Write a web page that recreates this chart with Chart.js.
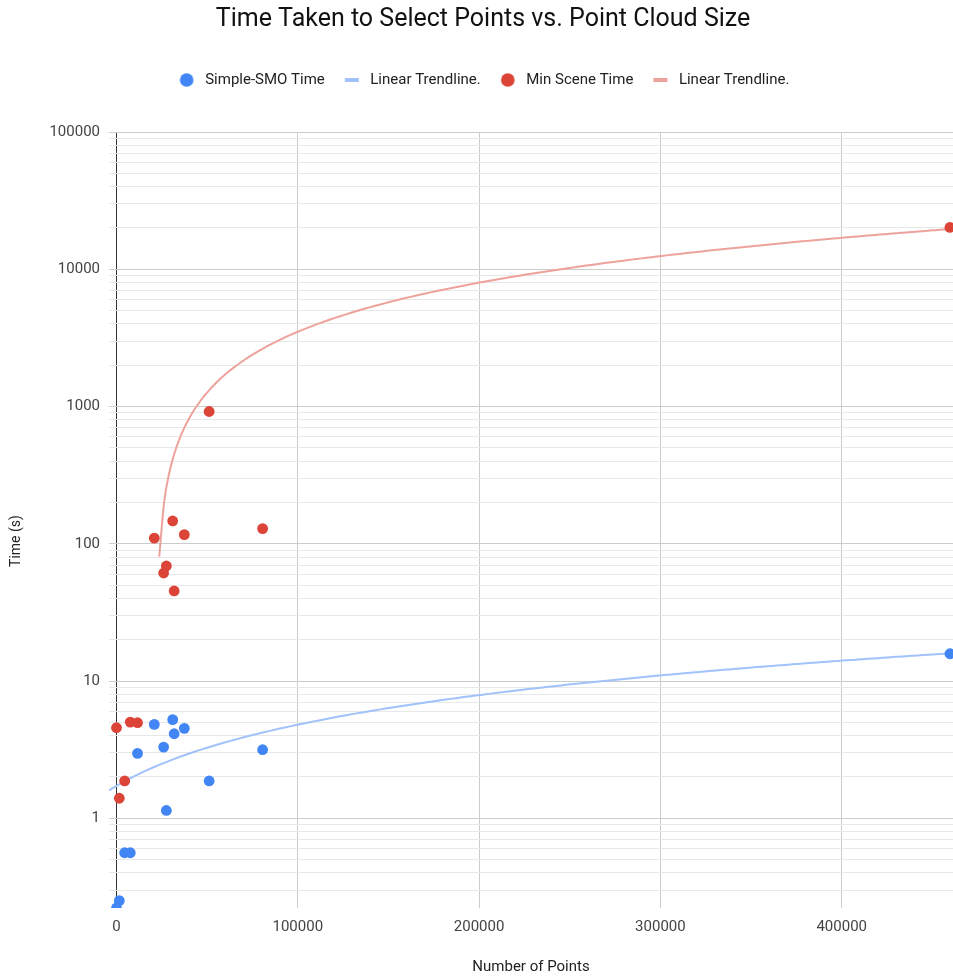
<!DOCTYPE html>
<html>
<head>
<meta charset="utf-8">
<script src="https://cdn.jsdelivr.net/npm/chart.js@4.4.1/dist/chart.umd.min.js"></script>
<style>
  html, body { margin: 0; padding: 0; background: #ffffff; overflow: hidden; }
  canvas { display: block; }
</style>
</head>
<body>
<canvas id="chart" width="953" height="979"></canvas>
<script>
// ---- data ----
const NUM_POINTS     = [0, 1550, 4500, 7600, 11600, 20850, 26000, 27500, 31000, 31800, 37400, 51100, 80600, 459700];
const SMO_TIME       = [0.222, 0.251, 0.561, 0.561, 2.97, 4.83, 3.30, 1.14, 5.23, 4.13, 4.52, 1.87, 3.16, 15.8];
const MIN_SCENE_TIME = [4.57, 1.40, 1.87, 5.02, 4.97, 110, 61.2, 68.9, 146.6, 45.3, 116.7, 920, 129, 20180];

const SERIES_NAMES = ['Simple-SMO Time', 'Linear Trendline.', 'Min Scene Time', 'Linear Trendline.'];
const X_TICKS   = [0, 100000, 200000, 300000, 400000];
const Y_DECADES = [1, 10, 100, 1000, 10000, 100000];
const Y_MINOR_STEPS = [2, 3, 4, 5, 6, 7, 8, 9];
const X_RANGE = [-4137, 461390];
const Y_RANGE = [0.222, 100000];
const TITLE = 'Time Taken to Select Points vs. Point Cloud Size';
const X_TITLE = 'Number of Points';
const Y_TITLE = 'Time (s)';
const TREND_SAMPLES = 168;

// ---- colours ----
const BLUE = '#4285f4', RED = '#db4437';
const BLUE_TREND = '#a1c2fa', RED_TREND = '#eda29b';

// ---- helpers ----
function toXY(xs, ys) { return xs.map((x, i) => ({ x: x, y: ys[i] })); }

function linearFit(xs, ys) {
  const n = xs.length;
  let sx = 0, sy = 0;
  for (let i = 0; i < n; i++) { sx += xs[i]; sy += ys[i]; }
  const mx = sx / n, my = sy / n;
  let sxy = 0, sxx = 0;
  for (let i = 0; i < n; i++) { sxy += (xs[i] - mx) * (ys[i] - my); sxx += (xs[i] - mx) * (xs[i] - mx); }
  const a = sxy / sxx;
  return { a: a, b: my - a * mx };
}

// least-squares trendline evaluated across the visible x-window
// (only positive values can be shown on a log axis)
function trendline(xs, ys, samples) {
  const f = linearFit(xs, ys);
  const out = [];
  const step = (X_RANGE[1] - X_RANGE[0]) / samples;
  for (let k = 0; k <= samples; k++) {
    const x = X_RANGE[0] + k * step;
    const y = f.a * x + f.b;
    if (y > 0) out.push({ x: x, y: y });
  }
  return out;
}

function yTicks() {
  const t = [];
  let d = Math.pow(10, Math.floor(Math.log10(Y_RANGE[0])));
  while (d <= Y_RANGE[1]) {
    [1].concat(Y_MINOR_STEPS).forEach(m => {
      const v = +(m * d).toPrecision(6);
      if (v >= Y_RANGE[0] && v <= Y_RANGE[1]) t.push({ value: v });
    });
    d *= 10;
  }
  return t;
}

function circleMarker(color, r) {
  const c = document.createElement('canvas');
  c.width = 22; c.height = 16;
  const g = c.getContext('2d');
  g.fillStyle = color;
  g.beginPath(); g.arc(11, 8, r, 0, Math.PI * 2); g.fill();
  return c;
}
function dashMarker(color, w, h) {
  const c = document.createElement('canvas');
  c.width = 22; c.height = 16;
  const g = c.getContext('2d');
  g.fillStyle = color;
  g.fillRect(11 - w / 2, 8 - h / 2, w, h);
  return c;
}
const MARKERS = [circleMarker(BLUE, 6.8), dashMarker(BLUE_TREND, 14, 4), circleMarker(RED, 6.8), dashMarker(RED_TREND, 14, 4)];

// nudge the title / legend a few pixels right and the y-axis title down, as in the reference
const Y_TITLE_SHIFT = 21;
const nudgePlugin = {
  id: 'nudge',
  afterLayout(chart) {
    if (chart.titleBlock) chart.titleBlock.left += 13;
    if (chart.legend) chart.legend.left += 12;
    const y = chart.scales.y;
    if (y) { y.top += Y_TITLE_SHIFT; y.bottom += Y_TITLE_SHIFT; chart.$yShifted = true; }
  },
  beforeDatasetsDraw(chart) {
    const y = chart.scales.y;
    if (y && chart.$yShifted) { y.top -= Y_TITLE_SHIFT; y.bottom -= Y_TITLE_SHIFT; chart.$yShifted = false; }
  }
};

Chart.defaults.font.family = 'Roboto, "Open Sans", sans-serif';

new Chart(document.getElementById('chart'), {
  type: 'scatter',
  plugins: [nudgePlugin],
  data: {
    datasets: [
      {
        label: SERIES_NAMES[0],
        data: toXY(NUM_POINTS, SMO_TIME),
        backgroundColor: BLUE, borderColor: BLUE,
        pointRadius: 5.4, pointBorderWidth: 0, pointHoverRadius: 5.4,
        order: 1, clip: 0
      },
      {
        label: SERIES_NAMES[1],
        data: trendline(NUM_POINTS, SMO_TIME, TREND_SAMPLES),
        showLine: true, borderColor: BLUE_TREND, backgroundColor: BLUE_TREND,
        borderWidth: 2, pointRadius: 0, pointHoverRadius: 0,
        cubicInterpolationMode: 'monotone',
        order: 2
      },
      {
        label: SERIES_NAMES[2],
        data: toXY(NUM_POINTS, MIN_SCENE_TIME),
        backgroundColor: RED, borderColor: RED,
        pointRadius: 5.4, pointBorderWidth: 0, pointHoverRadius: 5.4,
        order: 1, clip: 0
      },
      {
        label: SERIES_NAMES[3],
        data: trendline(NUM_POINTS, MIN_SCENE_TIME, TREND_SAMPLES),
        showLine: true, borderColor: RED_TREND, backgroundColor: RED_TREND,
        borderWidth: 2, pointRadius: 0, pointHoverRadius: 0,
        cubicInterpolationMode: 'monotone',
        order: 2
      }
    ]
  },
  options: {
    responsive: false,
    animation: false,
    devicePixelRatio: 1,
    layout: { padding: 0, autoPadding: false },
    plugins: {
      tooltip: { enabled: false },
      title: {
        display: true, text: TITLE, color: '#111',
        font: { size: 25, weight: 'normal' },
        padding: { top: 4.6, bottom: 21.9 }
      },
      subtitle: {
        display: true, text: '', weight: 500,
        font: { size: 10 }, padding: { top: 22.5, bottom: 0 }
      },
      legend: {
        display: true, position: 'top',
        labels: {
          color: '#222', font: { size: 15 },
          usePointStyle: true, boxHeight: 10, pointStyleWidth: 22, padding: 16,
          sort: (a, b) => a.datasetIndex - b.datasetIndex,
          generateLabels: (chart) => {
            const items = Chart.defaults.plugins.legend.labels.generateLabels(chart);
            items.forEach(it => { it.pointStyle = MARKERS[it.datasetIndex]; it.lineWidth = 0; });
            return items;
          }
        }
      }
    },
    scales: {
      x: {
        type: 'linear',
        min: X_RANGE[0], max: X_RANGE[1],
        afterBuildTicks: (s) => { s.ticks = X_TICKS.map(v => ({ value: v })); },
        afterFit: (s) => { s.height = 71; },
        border: { display: false },
        grid: {
          drawTicks: false, lineWidth: 1,
          color: (ctx) => (ctx.tick && ctx.tick.value === 0) ? '#333333' : '#cccccc'
        },
        ticks: {
          autoSkip: false, maxRotation: 0, padding: 10,
          color: '#444', font: { size: 15 },
          callback: (v) => String(v)
        },
        title: {
          display: true, text: X_TITLE, color: '#222',
          font: { size: 15 }, padding: { top: 0, bottom: 3 }
        }
      },
      y: {
        type: 'logarithmic',
        min: Y_RANGE[0], max: Y_RANGE[1],
        afterBuildTicks: (s) => { s.ticks = yTicks(); },
        afterFit: (s) => { s.width = 109; },
        border: { display: false },
        grid: {
          drawTicks: false, lineWidth: 1,
          color: (ctx) => (ctx.tick && Y_DECADES.includes(ctx.tick.value)) ? '#cccccc' : '#e8e8e8'
        },
        ticks: {
          autoSkip: false, padding: 9,
          color: '#444', font: { size: 15 },
          callback: (v) => Y_DECADES.includes(v) ? String(v) : ''
        },
        title: {
          display: true, text: Y_TITLE, color: '#222',
          font: { size: 14 }, padding: { top: 8, bottom: 0 }
        }
      }
    }
  }
});
</script>
</body>
</html>
